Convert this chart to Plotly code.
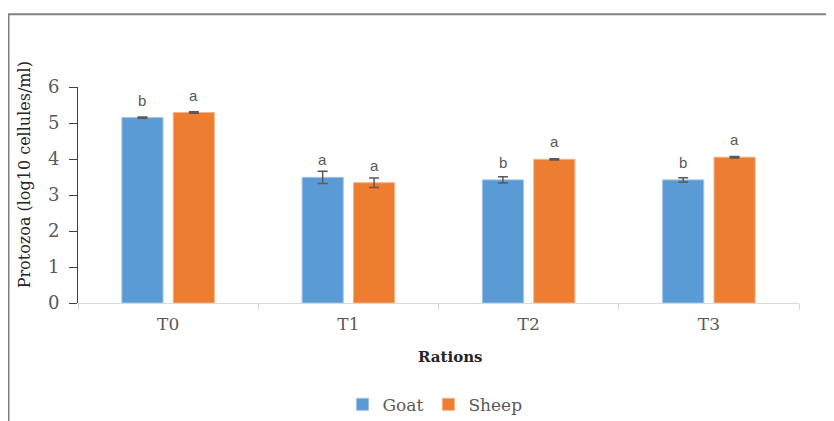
import plotly.graph_objects as go

rations = ["T0", "T1", "T2", "T3"]
goat = [5.15, 3.49, 3.42, 3.42]
sheep = [5.29, 3.34, 3.99, 4.05]
goat_err = [0.02, 0.17, 0.09, 0.06]
sheep_err = [0.02, 0.13, 0.02, 0.02]
goat_letters = ["b", "a", "b", "b"]
sheep_letters = ["a", "a", "a", "a"]

SERIF = "DejaVu Serif"
W, H = 834, 421
PAGE = 8  # default body margin of the page
# target page pixel positions
AX_L, AX_R, AX_T, AX_B = 78, 799, 86.5, 303
L = AX_L - PAGE
T = AX_T - PAGE
R = W - (AX_R - PAGE)
B = H - (AX_B - PAGE)
pw, ph = W - L - R, H - T - B

def px_x(p):
    return (p - PAGE - L) / pw

def px_y(p):
    return (H - B - (p - PAGE)) / ph

fig = go.Figure()
fig.add_trace(go.Bar(
    name="Goat", x=rations, y=goat,
    marker=dict(color="#5B9BD5", line=dict(color="#9DC3E6", width=1)),
    error_y=dict(type="data", array=goat_err, color="#595959", thickness=1.5, width=5),
))
fig.add_trace(go.Bar(
    name="Sheep", x=rations, y=sheep,
    marker=dict(color="#ED7D31", line=dict(color="#F4B183", width=1)),
    error_y=dict(type="data", array=sheep_err, color="#595959", thickness=1.5, width=5),
))

ann = []
off = 0.143
for i, (g, s) in enumerate(zip(goat, sheep)):
    ann.append(dict(x=i - off, y=g, xref="x", yref="y", text=goat_letters[i], showarrow=False,
                    yshift=17.5, yanchor="middle",
                    font=dict(family="Liberation Sans", size=15, color="#595959")))
    ann.append(dict(x=i + off, y=s, xref="x", yref="y", text=sheep_letters[i], showarrow=False,
                    yshift=17.5, yanchor="middle",
                    font=dict(family="Liberation Sans", size=15, color="#595959")))

ann.append(dict(x=px_x(450), y=px_y(357), xref="paper", yref="paper", text="<b>Rations</b>",
                showarrow=False, xanchor="center", yanchor="middle",
                font=dict(family=SERIF, size=15, color="#262626")))
ann.append(dict(x=px_x(24), y=px_y(175), xref="paper", yref="paper",
                text="Protozoa (log10 cellules/ml)", textangle=-90,
                showarrow=False, xanchor="center", yanchor="middle",
                font=dict(family=SERIF, size=16, color="#262626")))

fig.update_layout(
    width=W, height=H,
    margin=dict(l=L, r=R, t=T, b=B, autoexpand=False),
    paper_bgcolor="white", plot_bgcolor="white",
    barmode="group", bargap=0.43, bargroupgap=0.2,
    showlegend=True,
    legend=dict(orientation="h", x=px_x(435), xanchor="center", y=px_y(405), yanchor="middle",
                font=dict(family=SERIF, size=17, color="#595959"), itemwidth=30),
    annotations=ann,
    shapes=[dict(type="rect", xref="paper", yref="paper",
                 x0=px_x(8.5), x1=px_x(900), y0=px_y(500), y1=px_y(13.5),
                 line=dict(color="#7F7F7F", width=2), fillcolor="rgba(0,0,0,0)", layer="below")],
    xaxis=dict(
        showline=True, linecolor="#D9D9D9", linewidth=1,
        ticks="outside", tickson="boundaries", ticklen=6, tickcolor="#D9D9D9",
        tickfont=dict(family=SERIF, size=17, color="#595959"),
        ticklabelstandoff=6,
        showgrid=False, zeroline=False,
    ),
    yaxis=dict(
        range=[0, 6], dtick=1, showline=True, linecolor="#404040", linewidth=1,
        ticks="outside", ticklen=8, tickcolor="#404040",
        tickfont=dict(family=SERIF, size=18, color="#595959"),
        ticklabelstandoff=6,
        showgrid=False, zeroline=False,
    ),
)

fig.write_html("out.html")
